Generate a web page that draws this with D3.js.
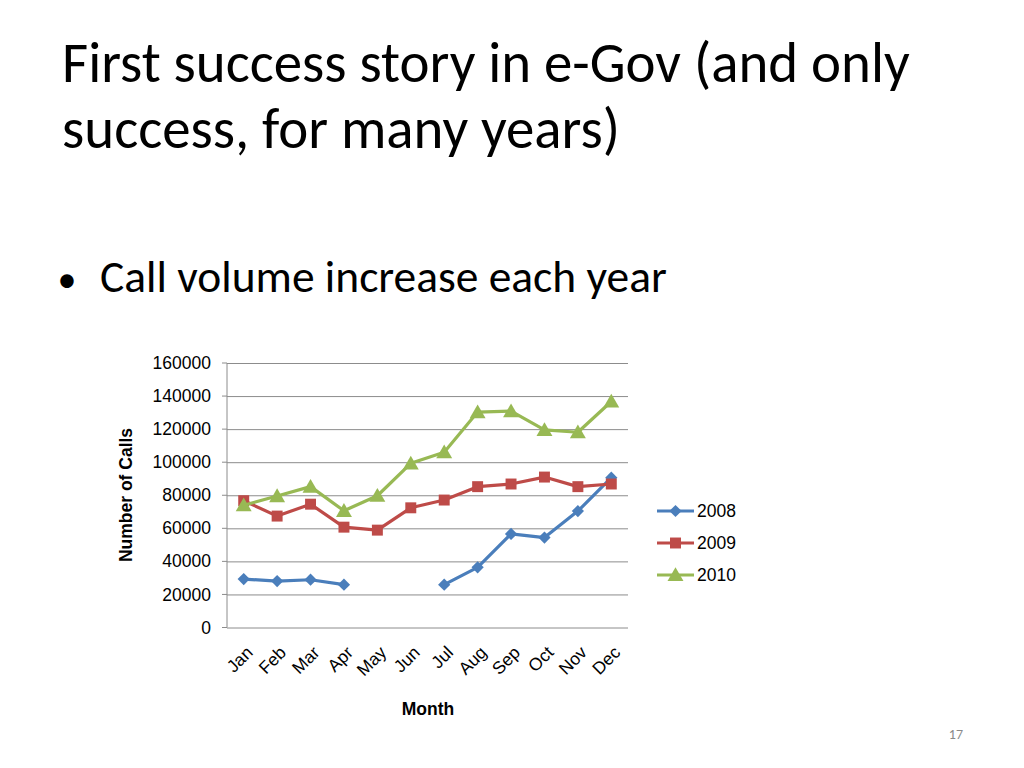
<!DOCTYPE html>
<html>
<head>
<meta charset="utf-8">
<script src="https://cdn.jsdelivr.net/npm/d3@7"></script>
<style>
  body { margin: 0; background: #fff; }
  svg { display: block; }
</style>
</head>
<body>
<div id="chart"></div>
<script>
// chart data
const months = ["Jan","Feb","Mar","Apr","May","Jun","Jul","Aug","Sep","Oct","Nov","Dec"];
const years = ["2008","2009","2010"];
const calls2008 = [29300, 28100, 28900, 25900, null, null, 25900, 36400, 56600, 54400, 70400, 90600];
const calls2009 = [76700, 67400, 74600, 60700, 58900, 72400, 77100, 85200, 86800, 91000, 85200, 86800];
const calls2010 = [74000, 79500, 85200, 70600, 79700, 99300, 106000, 130300, 130900, 119500, 118100, 136700];
const yTicks = [0, 20000, 40000, 60000, 80000, 100000, 120000, 140000, 160000];

const colors = ["#4A7EBB", "#BE4B48", "#98B954"];
const symbols = [d3.symbolSquare, d3.symbolSquare, d3.symbolTriangle];
const symSizes = [75, 120, 110];
const symRot = [45, 0, 0];
const symDy = [0, 0, 1.5];
const series = [calls2008, calls2009, calls2010];

const W = 1024, H = 768;
const svg = d3.select("#chart").append("svg")
  .attr("width", W).attr("height", H);

// slide title
const titleFont = "Carlito, Calibri, 'Open Sans', sans-serif";
const title = svg.append("g").attr("font-family", titleFont).attr("fill", "#000");
const t1 = title.append("text").attr("x", 62).attr("y", 82)
  .attr("font-size", 44).text("First success story in e-Gov (and only");
title.append("text").attr("x", 62).attr("y", 148)
  .attr("font-size", 44).text("success, for many years)");
// fit title to the reference width
let tw = t1.node().getComputedTextLength();
title.selectAll("text").attr("font-size", 44 * 848 / tw);

svg.append("text").attr("x", 67).attr("y", 292)
  .attr("text-anchor", "middle")
  .attr("font-family", titleFont).attr("font-size", 38).text("•");
const bullet = svg.append("text").attr("x", 100).attr("y", 292)
  .attr("font-family", titleFont).attr("font-size", 36)
  .text("Call volume increase each year");
bullet.attr("font-size", 36 * 567 / bullet.node().getComputedTextLength());

svg.append("text").attr("x", 963).attr("y", 739)
  .attr("text-anchor", "end")
  .attr("font-family", titleFont).attr("font-size", 14)
  .attr("fill", "#8a8a8a").text("17");

// plot area
const margin = {left: 227, right: 628, top: 363, bottom: 627.5};
const x = d3.scaleBand().domain(months).range([margin.left, margin.right]);
const y = d3.scaleLinear().domain([0, 160000]).range([margin.bottom, margin.top]);
const fz = 17.5;

const g = svg.append("g").attr("font-family", "Liberation Sans, Arial, sans-serif");

// gridlines
g.append("g")
  .attr("transform", `translate(${margin.left},0)`)
  .call(d3.axisLeft(y).tickValues(yTicks).tickSize(-(margin.right - margin.left)).tickFormat(d => d))
  .call(a => a.select(".domain").remove())
  .call(a => a.selectAll(".tick line").attr("stroke", "#8c8c8c").attr("stroke-width", 1))
  .call(a => a.selectAll(".tick text").attr("x", -16).attr("font-size", fz).attr("fill", "#000"));

// left axis line with small ticks
g.append("line")
  .attr("x1", margin.left).attr("x2", margin.left)
  .attr("y1", margin.top).attr("y2", margin.bottom)
  .attr("stroke", "#8c8c8c");
g.selectAll(".ytick").data(yTicks).join("line")
  .attr("x1", margin.left - 5).attr("x2", margin.left)
  .attr("y1", d => y(d)).attr("y2", d => y(d))
  .attr("stroke", "#8c8c8c");

// x labels
g.append("g")
  .attr("transform", `translate(0,${margin.bottom})`)
  .call(d3.axisBottom(x).tickSize(0))
  .call(a => a.select(".domain").remove())
  .call(a => a.selectAll(".tick text")
    .attr("font-size", fz).attr("fill", "#000")
    .attr("text-anchor", "end")
    .attr("dx", 0).attr("dy", 0)
    .attr("transform", "translate(8,24) rotate(-45)"));

// axis titles
g.append("text").attr("x", 428).attr("y", 715)
  .attr("text-anchor", "middle").attr("font-weight", "bold").attr("font-size", fz)
  .text("Month");
g.append("text")
  .attr("transform", "translate(132,495) rotate(-90)")
  .attr("text-anchor", "middle").attr("font-weight", "bold").attr("font-size", fz)
  .text("Number of Calls");

// lines
const line = d3.line()
  .defined(d => d.v != null)
  .x(d => x(d.m) + x.bandwidth() / 2)
  .y(d => y(d.v));

series.forEach((vals, i) => {
  const pts = months.map((m, j) => ({m, v: vals[j]}));
  g.append("path")
    .datum(pts)
    .attr("fill", "none")
    .attr("stroke", colors[i])
    .attr("stroke-width", 3.2)
    .attr("stroke-linejoin", "round")
    .attr("d", line);
  g.selectAll(null).data(pts.filter(d => d.v != null)).join("path")
    .attr("transform", d => `translate(${x(d.m) + x.bandwidth() / 2},${y(d.v) + symDy[i]}) rotate(${symRot[i]})`)
    .attr("d", d3.symbol(symbols[i], symSizes[i]))
    .attr("fill", colors[i]);
});

// legend
const legend = g.append("g");
years.forEach((yr, i) => {
  const ly = 511 + i * 32;
  legend.append("line").attr("x1", 657).attr("x2", 694)
    .attr("y1", ly).attr("y2", ly)
    .attr("stroke", colors[i]).attr("stroke-width", 3.2);
  legend.append("path")
    .attr("transform", `translate(675.5,${ly + symDy[i]}) rotate(${symRot[i]})`)
    .attr("d", d3.symbol(symbols[i], symSizes[i]))
    .attr("fill", colors[i]);
  legend.append("text").attr("x", 697).attr("y", ly + 6)
    .attr("font-size", fz).text(yr);
});
</script>
</body>
</html>
